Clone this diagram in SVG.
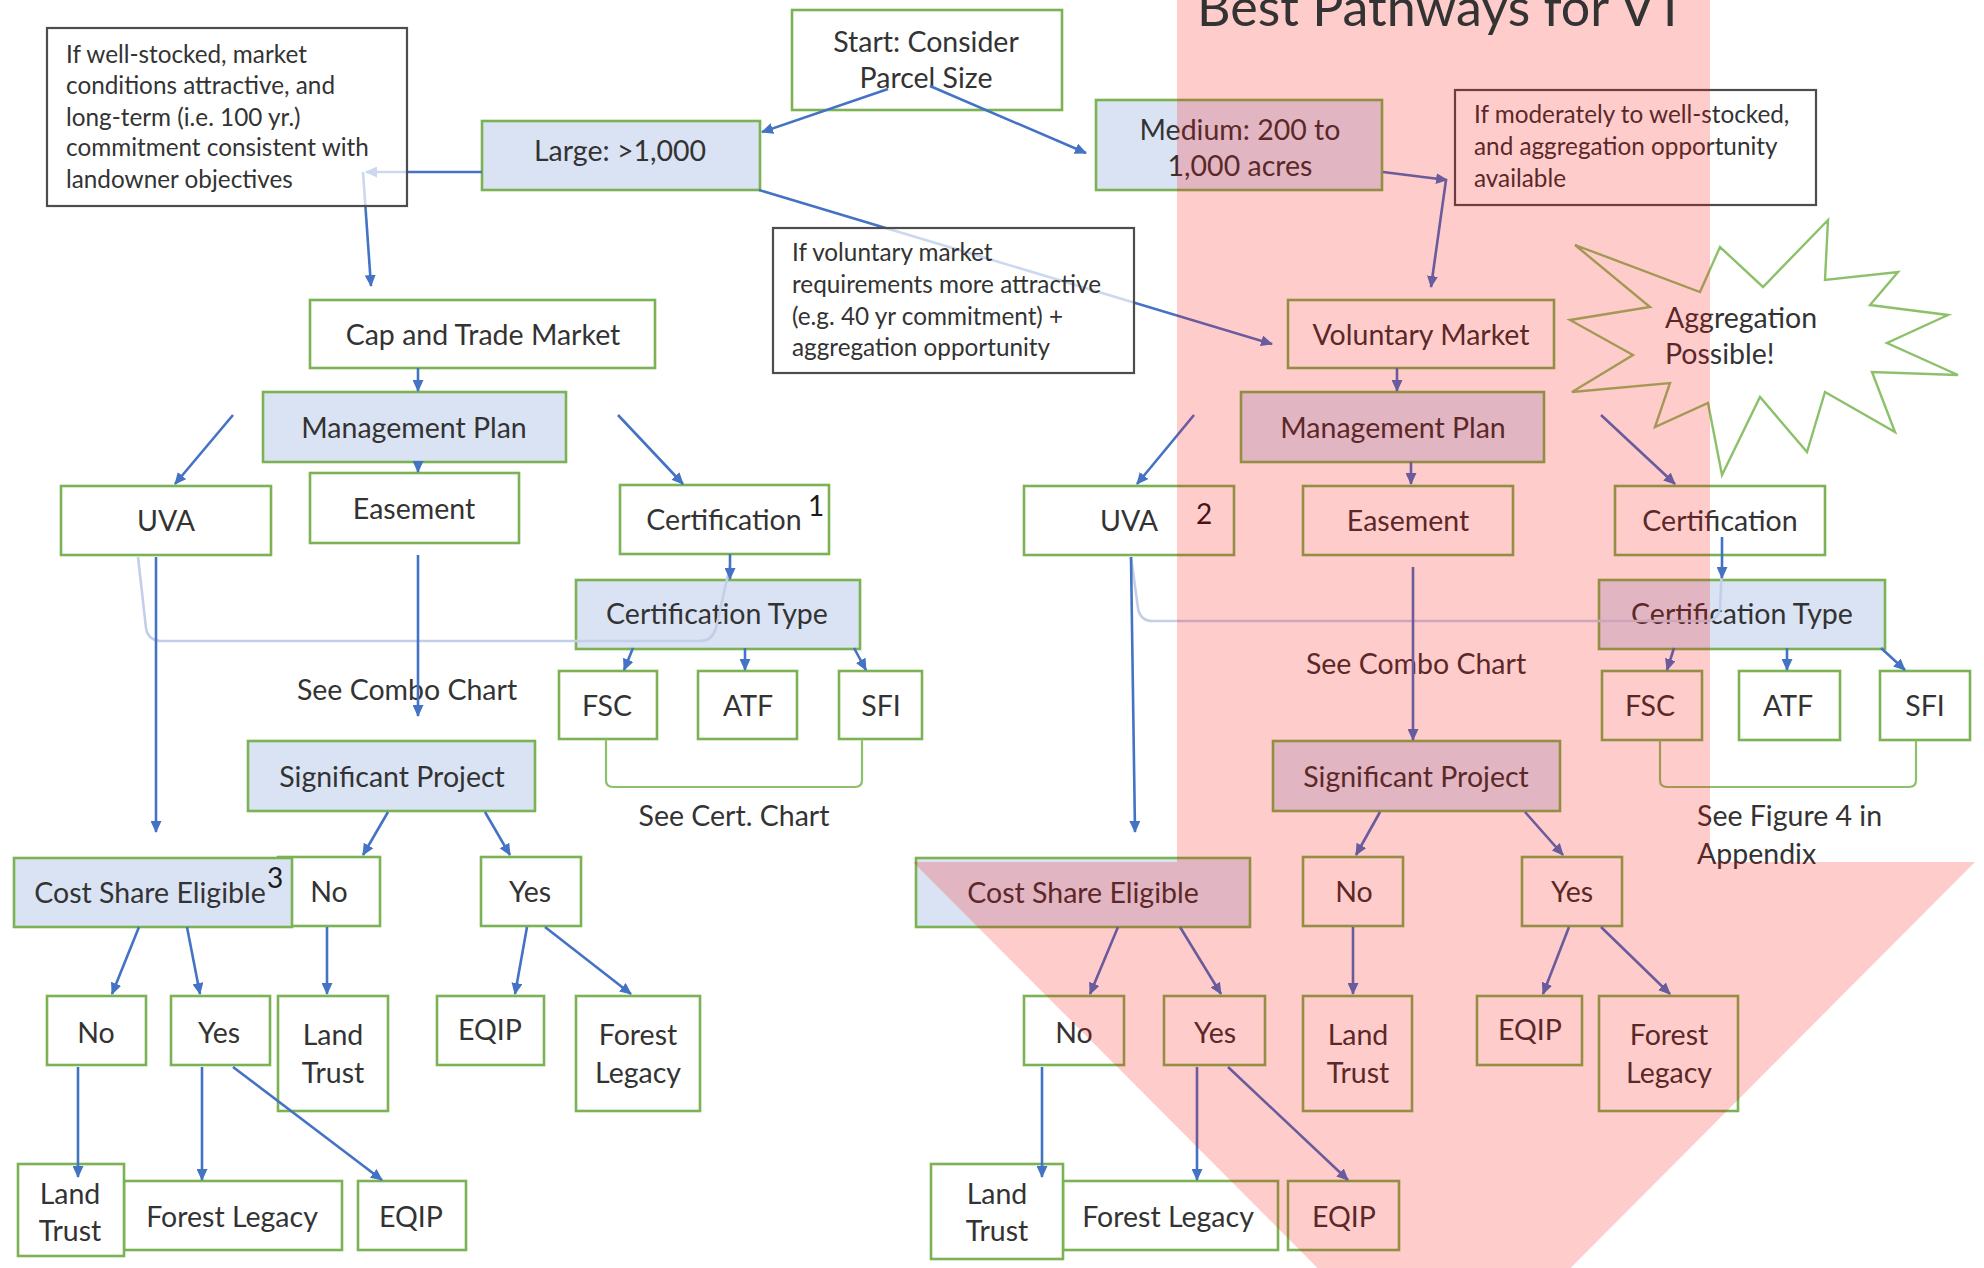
<svg xmlns="http://www.w3.org/2000/svg" width="1984" height="1268" viewBox="0 0 1984 1268">
<style>
.n{fill:#ffffff;stroke:#7ab254;stroke-width:2.6}
.b{fill:#dae3f3;stroke:#7ab254;stroke-width:2.6}
.note{fill:#ffffff;fill-opacity:0.72;stroke:#4d4d4d;stroke-width:2.2}
text{font-family:Lato,"Liberation Sans",sans-serif;fill:#333333}
.t{font-size:28.5px;text-anchor:middle}
.s{font-size:24.3px}
.l{font-size:28.5px}
.sup{font-size:28px;fill:#1a1a1a}
.c{stroke:#4472c4;stroke-width:2.6;fill:none;marker-end:url(#ah)}
.f{stroke:#c3cfe9;stroke-width:2.6;fill:none}
.br{stroke:#8cc06a;stroke-width:2.2;fill:none}
</style>
<defs>
<marker id="ah" markerUnits="userSpaceOnUse" markerWidth="12" markerHeight="11" refX="11" refY="5.5" orient="auto">
<path d="M0,0 L12,5.5 L0,11 z" fill="#4472c4"/>
</marker>
</defs>
<rect width="1984" height="1268" fill="#ffffff"/>

<g id="start"><rect class="n" x="792" y="10" width="270" height="100"/><text class="t" x="926" y="52">Start: Consider</text><text class="t" x="926" y="88">Parcel Size</text></g>
<g id="large"><rect class="b" x="482" y="121" width="278" height="69"/><text class="t" x="620" y="161">Large: &gt;1,000</text></g>
<g id="medium"><rect class="b" x="1096" y="100" width="286" height="90"/><text class="t" x="1240" y="140">Medium: 200 to</text><text class="t" x="1240" y="176">1,000 acres</text></g>

<g id="captrade"><rect class="n" x="310" y="300" width="345" height="68"/><text class="t" x="483" y="345">Cap and Trade Market</text></g>
<g id="mgmt-l"><rect class="b" x="263" y="392" width="303" height="70"/><text class="t" x="414" y="438">Management Plan</text></g>
<g id="uva-l"><rect class="n" x="61" y="486" width="210" height="69"/><text class="t" x="166" y="531">UVA</text></g>
<g id="easement-l"><rect class="n" x="310" y="473" width="209" height="70"/><text class="t" x="414" y="519">Easement</text></g>
<g id="cert-l"><rect class="n" x="620" y="485" width="209" height="69"/><text class="t" x="724" y="530">Certification</text><text class="sup" x="808" y="516">1</text></g>
<g id="certtype-l"><rect class="b" x="576" y="580" width="284" height="69"/><text class="t" x="717" y="624">Certification Type</text></g>
<g id="fsc-l"><rect class="n" x="559" y="671" width="98" height="68"/><text class="t" x="607" y="716">FSC</text></g>
<g id="atf-l"><rect class="n" x="698" y="671" width="99" height="68"/><text class="t" x="748" y="716">ATF</text></g>
<g id="sfi-l"><rect class="n" x="839" y="671" width="83" height="68"/><text class="t" x="881" y="716">SFI</text></g>
<g id="certchart-l"><path class="br" d="M606,739 V780 Q606,787 613,787 H855 Q862,787 862,780 V739"/><text class="t" x="734" y="826">See Cert. Chart</text></g>
<g id="combo-l"><text class="t" x="407" y="700">See Combo Chart</text></g>
<g id="sig-l"><rect class="b" x="248" y="741" width="287" height="70"/><text class="t" x="392" y="787">Significant Project</text></g>
<g id="no1-l"><rect class="n" x="278" y="857" width="102" height="69"/><text class="t" x="329" y="902">No</text></g>
<g id="cost-l"><rect class="b" x="14" y="858" width="278" height="69"/><text class="t" x="150" y="903">Cost Share Eligible</text><text class="sup" x="267" y="888">3</text></g>
<g id="yes1-l"><rect class="n" x="481" y="857" width="100" height="69"/><text class="t" x="530" y="902">Yes</text></g>
<g id="no2-l"><rect class="n" x="47" y="996" width="99" height="69"/><text class="t" x="96" y="1043">No</text></g>
<g id="yes2-l"><rect class="n" x="171" y="996" width="99" height="69"/><text class="t" x="219" y="1043">Yes</text></g>
<g id="landtrust1-l"><rect class="n" x="278" y="996" width="110" height="115"/><text class="t" x="333" y="1045">Land</text><text class="t" x="333" y="1083">Trust</text></g>
<g id="eqip1-l"><rect class="n" x="437" y="996" width="107" height="69"/><text class="t" x="490" y="1040">EQIP</text></g>
<g id="forest1-l"><rect class="n" x="576" y="996" width="124" height="115"/><text class="t" x="638" y="1045">Forest</text><text class="t" x="638" y="1083">Legacy</text></g>
<g id="forest2-l"><rect class="n" x="124" y="1181" width="218" height="69"/><text class="t" x="232" y="1227">Forest Legacy</text></g>
<g id="landtrust2-l"><rect class="n" x="18" y="1164" width="106" height="92"/><text class="t" x="70" y="1204">Land</text><text class="t" x="70" y="1241">Trust</text></g>
<g id="eqip2-l"><rect class="n" x="358" y="1181" width="108" height="69"/><text class="t" x="411" y="1227">EQIP</text></g>

<g id="voluntary"><rect class="n" x="1288" y="300" width="266" height="68"/><text class="t" x="1421" y="345">Voluntary Market</text></g>
<g id="mgmt-r"><rect class="b" x="1241" y="392" width="303" height="70"/><text class="t" x="1393" y="438">Management Plan</text></g>
<g id="uva-r"><rect class="n" x="1024" y="486" width="210" height="69"/><text class="t" x="1129" y="531">UVA</text><text class="sup" x="1196" y="524">2</text></g>
<g id="easement-r"><rect class="n" x="1303" y="486" width="210" height="69"/><text class="t" x="1408" y="531">Easement</text></g>
<g id="cert-r"><rect class="n" x="1615" y="486" width="210" height="69"/><text class="t" x="1720" y="531">Certification</text></g>
<g id="certtype-r"><rect class="b" x="1599" y="580" width="286" height="69"/><text class="t" x="1742" y="624">Certification Type</text></g>
<g id="fsc-r"><rect class="n" x="1602" y="671" width="100" height="69"/><text class="t" x="1650" y="716">FSC</text></g>
<g id="atf-r"><rect class="n" x="1739" y="671" width="101" height="69"/><text class="t" x="1788" y="716">ATF</text></g>
<g id="sfi-r"><rect class="n" x="1880" y="671" width="90" height="69"/><text class="t" x="1925" y="716">SFI</text></g>
<g id="figure4-r"><path class="br" d="M1660,740 V780 Q1660,787 1667,787 H1909 Q1916,787 1916,780 V740"/><text class="l" x="1697" y="826">See Figure 4 in</text><text class="l" x="1697" y="864">Appendix</text></g>
<g id="combo-r"><text class="t" x="1416" y="674">See Combo Chart</text></g>
<g id="sig-r"><rect class="b" x="1273" y="741" width="287" height="70"/><text class="t" x="1416" y="787">Significant Project</text></g>
<g id="cost-r"><rect class="b" x="916" y="858" width="334" height="69"/><text class="t" x="1083" y="903">Cost Share Eligible</text></g>
<g id="no1-r"><rect class="n" x="1303" y="857" width="100" height="69"/><text class="t" x="1354" y="902">No</text></g>
<g id="yes1-r"><rect class="n" x="1522" y="857" width="100" height="69"/><text class="t" x="1572" y="902">Yes</text></g>
<g id="no2-r"><rect class="n" x="1024" y="996" width="100" height="69"/><text class="t" x="1074" y="1043">No</text></g>
<g id="yes2-r"><rect class="n" x="1164" y="996" width="101" height="69"/><text class="t" x="1215" y="1043">Yes</text></g>
<g id="landtrust1-r"><rect class="n" x="1303" y="996" width="109" height="115"/><text class="t" x="1358" y="1045">Land</text><text class="t" x="1358" y="1083">Trust</text></g>
<g id="eqip1-r"><rect class="n" x="1477" y="996" width="105" height="69"/><text class="t" x="1530" y="1040">EQIP</text></g>
<g id="forest1-r"><rect class="n" x="1599" y="996" width="139" height="115"/><text class="t" x="1669" y="1045">Forest</text><text class="t" x="1669" y="1083">Legacy</text></g>
<g id="forest2-r"><rect class="n" x="1063" y="1181" width="215" height="69"/><text class="t" x="1168" y="1227">Forest Legacy</text></g>
<g id="landtrust2-r"><rect class="n" x="931" y="1164" width="132" height="95"/><text class="t" x="997" y="1204">Land</text><text class="t" x="997" y="1241">Trust</text></g>
<g id="eqip2-r"><rect class="n" x="1288" y="1181" width="111" height="69"/><text class="t" x="1344" y="1227">EQIP</text></g>

<g id="aggregation"><polygon points="1828,220 1825,280 1898,272 1870,305 1948,315 1887,343 1958,375 1872,372 1895,432 1825,392 1807,452 1760,397 1722,475 1708,403 1655,427 1670,383 1572,392 1633,355 1570,320 1650,307 1575,245 1700,292 1720,247 1763,287" fill="#ffffff" stroke="#8cc06a" stroke-width="2.4" stroke-linejoin="miter"/><text class="l" x="1665" y="328" font-size="29">Aggregation</text><text class="l" x="1665" y="364" font-size="29">Possible!</text></g>

<g id="connectors">
<path class="c" d="M888,89 L762,132"/>
<path class="c" d="M930,86 L1086,153"/>
<path class="c" d="M482,172 L366,172"/>
<path class="c" d="M363,172 L371,286"/>
<path class="c" d="M759,190 L1272,344"/>
<path class="c" d="M1383,172 L1447,180"/>
<path class="c" d="M1446,180 L1431,287"/>
<path class="c" d="M418,368 L418,391"/>
<path class="c" d="M1397,368 L1397,391"/>
<path class="f" d="M138,557 L146,628 Q148,641 162,641 L700,641 Q712,641 716,628 L730,566"/>
<path class="f" d="M1131,557 L1138,608 Q1140,621 1153,621 L1706,621 Q1718,621 1720,608 L1722,566"/>
<path class="c" d="M233,415 L175,484"/>
<path class="c" d="M418,462 L418,472"/>
<path class="c" d="M618,415 L683,484"/>
<path class="c" d="M156,557 L156,832"/>
<path class="c" d="M418,555 L418,716"/>
<path class="c" d="M730,554 L730,579"/>
<path class="c" d="M633,648 L624,670"/>
<path class="c" d="M745,648 L745,670"/>
<path class="c" d="M854,648 L866,670"/>
<path class="c" d="M388,812 L363,855"/>
<path class="c" d="M485,812 L510,855"/>
<path class="c" d="M139,927 L112,994"/>
<path class="c" d="M187,927 L200,994"/>
<path class="c" d="M327,927 L327,994"/>
<path class="c" d="M527,927 L515,994"/>
<path class="c" d="M545,927 L631,994"/>
<path class="c" d="M78,1067 L78,1177"/>
<path class="c" d="M202,1067 L202,1180"/>
<path class="c" d="M233,1067 L382,1180"/>
<path class="c" d="M1194,415 L1137,484"/>
<path class="c" d="M1411,462 L1411,484"/>
<path class="c" d="M1601,415 L1675,484"/>
<path class="c" d="M1131,557 L1135,832"/>
<path class="c" d="M1413,567 L1413,740"/>
<path class="c" d="M1722,537 L1722,578"/>
<path class="c" d="M1674,648 L1667,670"/>
<path class="c" d="M1787,648 L1787,670"/>
<path class="c" d="M1881,648 L1905,670"/>
<path class="c" d="M1380,812 L1356,855"/>
<path class="c" d="M1525,812 L1563,855"/>
<path class="c" d="M1118,927 L1090,994"/>
<path class="c" d="M1180,927 L1221,994"/>
<path class="c" d="M1353,927 L1353,994"/>
<path class="c" d="M1569,927 L1543,994"/>
<path class="c" d="M1601,927 L1670,994"/>
<path class="c" d="M1042,1067 L1042,1177"/>
<path class="c" d="M1197,1067 L1197,1180"/>
<path class="c" d="M1228,1067 L1348,1180"/>
</g>

<g id="note-large"><rect class="note" x="47" y="28" width="360" height="178"/><text class="s" x="66" y="63">If well-stocked, market</text><text class="s" x="66" y="94">conditions attractive, and</text><text class="s" x="66" y="126">long-term (i.e. 100 yr.)</text><text class="s" x="66" y="156">commitment consistent with</text><text class="s" x="66" y="188">landowner objectives</text></g>
<g id="note-voluntary"><rect class="note" x="773" y="228" width="361" height="145"/><text class="s" x="792" y="261">If voluntary market</text><text class="s" x="792" y="293">requirements more attractive</text><text class="s" x="792" y="325">(e.g. 40 yr commitment) +</text><text class="s" x="792" y="356">aggregation opportunity</text></g>
<g id="note-medium"><rect class="note" x="1455" y="90" width="361" height="115"/><text class="s" x="1474" y="123">If moderately to well-stocked,</text><text class="s" x="1474" y="155">and aggregation opportunity</text><text class="s" x="1474" y="187">available</text></g>

<g id="best-pathway-arrow"><polygon points="1177,-10 1710,-10 1710,862 1975,862 1444,1395 913,862 1177,862" fill="#ff0000" fill-opacity="0.2"/><text x="1197" y="26" font-size="52" fill="#111111">Best Pathways for VT</text></g>
</svg>
